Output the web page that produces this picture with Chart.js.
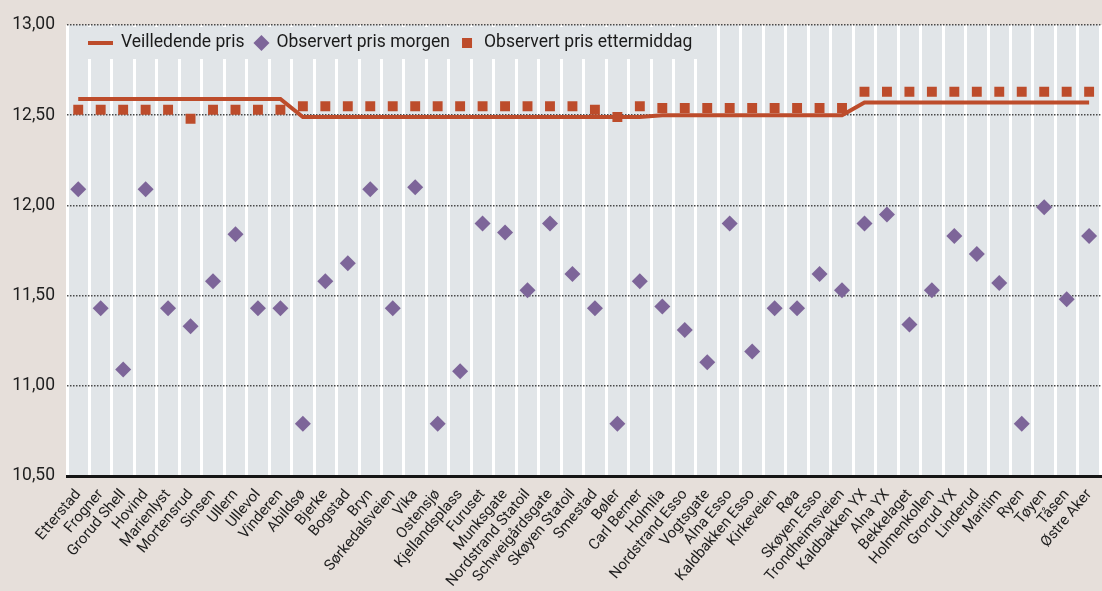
<!DOCTYPE html>
<html>
<head>
<meta charset="utf-8">
<script src="https://cdn.jsdelivr.net/npm/chart.js@4"></script>
<style>
  html, body { margin: 0; padding: 0; background: #e6dfda; overflow: hidden; }
  #wrap { width: 1113px; height: 591px; }
</style>
</head>
<body>
<div id="wrap"><canvas id="chart"></canvas></div>
<script>
// --- data ---
const stations = ['Etterstad', 'Frogner', 'Grorud Shell', 'Hovind', 'Marienlyst', 'Mortensrud', 'Sinsen', 'Ullern',
  'Ullevol', 'Vinderen', 'Abildsø', 'Bjerke', 'Bogstad', 'Bryn', 'Sørkedalsveien', 'Vika', 'Ostensjø', 'Kjellandsplass',
  'Furuset', 'Munksgate', 'Nordstrand Statoil', 'Schweigårdsgate', 'Skøyen Statoil', 'Smestad', 'Bøler', 'Carl Berner',
  'Holmlia', 'Nordstrand Esso', 'Vogtsgate', 'Alna Esso', 'Kaldbakken Esso', 'Kirkeveien', 'Røa', 'Skøyen Esso',
  'Trondheimsveien', 'Kaldbakken YX', 'Alna YX', 'Bekkelaget', 'Holmenkollen', 'Grorud YX', 'Linderud', 'Maritim',
  'Ryen', 'Tøyen', 'Tåsen', 'Østre Aker'];

const veiledende = [12.59, 12.59, 12.59, 12.59, 12.59, 12.59, 12.59, 12.59, 12.59, 12.59,
  12.49, 12.49, 12.49, 12.49, 12.49, 12.49, 12.49, 12.49, 12.49, 12.49, 12.49, 12.49, 12.49, 12.49, 12.49, 12.49,
  12.50, 12.50, 12.50, 12.50, 12.50, 12.50, 12.50, 12.50, 12.50,
  12.57, 12.57, 12.57, 12.57, 12.57, 12.57, 12.57, 12.57, 12.57, 12.57, 12.57];

const morgen = [12.09, 11.43, 11.09, 12.09, 11.43, 11.33, 11.58, 11.84, 11.43, 11.43,
  10.79, 11.58, 11.68, 12.09, 11.43, 12.10, 10.79, 11.08, 11.90, 11.85,
  11.53, 11.90, 11.62, 11.43, 10.79, 11.58, 11.44, 11.31, 11.13, 11.90,
  11.19, 11.43, 11.43, 11.62, 11.53, 11.90, 11.95, 11.34, 11.53, 11.83,
  11.73, 11.57, 10.79, 11.99, 11.48, 11.83];

const ettermiddag = [12.53, 12.53, 12.53, 12.53, 12.53, 12.48, 12.53, 12.53, 12.53, 12.53,
  12.55, 12.55, 12.55, 12.55, 12.55, 12.55, 12.55, 12.55, 12.55, 12.55, 12.55, 12.55, 12.55,
  12.53, 12.49, 12.55,
  12.54, 12.54, 12.54, 12.54, 12.54, 12.54, 12.54, 12.54, 12.54,
  12.63, 12.63, 12.63, 12.63, 12.63, 12.63, 12.63, 12.63, 12.63, 12.63, 12.63];

const yTicks = [10.5, 11, 11.5, 12, 12.5, 13];

// --- colours / fonts ---
const ORANGE = '#bd4c2b';
const PURPLE = '#7d6599';
const PLOT_BG = '#e1e5e8';
const FONT = "'Roboto', 'Liberation Sans', sans-serif";

const fmt = v => v.toFixed(2).replace('.', ',');

// grå bakgrunn bak plottet
const plotBg = {
  id: 'plotBg',
  beforeDraw(chart) {
    const { ctx, chartArea: a } = chart;
    ctx.save();
    ctx.fillStyle = PLOT_BG;
    ctx.fillRect(a.left, a.top, a.right - a.left, a.bottom - a.top);
    ctx.restore();
  }
};

// legende inne i plottet, over de hvite linjene
const innerLegend = {
  id: 'innerLegend',
  beforeDatasetsDraw(chart) {
    const { ctx, chartArea: a } = chart;
    const ds = chart.data.datasets;
    ctx.save();
    ctx.fillStyle = PLOT_BG;
    ctx.fillRect(a.left + 2, a.top + 2, 647, 32);

    const cy = a.top + 18;
    ctx.font = '17.5px ' + FONT;
    ctx.textBaseline = 'middle';
    let x = a.left + 21;

    // linje
    ctx.strokeStyle = ORANGE;
    ctx.lineWidth = 4;
    ctx.beginPath();
    ctx.moveTo(x, cy);
    ctx.lineTo(x + 25, cy);
    ctx.stroke();
    x += 33;
    ctx.fillStyle = '#1b1b1b';
    ctx.fillText(ds[0].label, x, cy);
    x += ctx.measureText(ds[0].label).width + 9;

    // rute
    ctx.fillStyle = PURPLE;
    ctx.beginPath();
    ctx.moveTo(x, cy);
    ctx.lineTo(x + 8, cy - 8);
    ctx.lineTo(x + 16, cy);
    ctx.lineTo(x + 8, cy + 8);
    ctx.closePath();
    ctx.fill();
    x += 23;
    ctx.fillStyle = '#1b1b1b';
    ctx.fillText(ds[1].label, x, cy);
    x += ctx.measureText(ds[1].label).width + 12;

    // firkant
    ctx.fillStyle = ORANGE;
    ctx.fillRect(x, cy - 5, 10, 10);
    x += 22;
    ctx.fillStyle = '#1b1b1b';
    ctx.fillText(ds[2].label, x, cy);
    ctx.restore();
  }
};

new Chart(document.getElementById('chart'), {
  type: 'line',
  data: {
    labels: stations,
    datasets: [
      {
        label: 'Veilledende pris',
        data: veiledende,
        borderColor: ORANGE,
        borderWidth: 4,
        pointRadius: 0,
        tension: 0,
        order: 2
      },
      {
        label: 'Observert pris morgen',
        data: morgen,
        showLine: false,
        pointStyle: 'rectRot',
        pointRadius: 8,
        pointBackgroundColor: PURPLE,
        pointBorderWidth: 0,
        order: 1
      },
      {
        label: 'Observert pris ettermiddag',
        data: ettermiddag,
        showLine: false,
        pointStyle: 'rect',
        pointRadius: 7,
        pointBackgroundColor: ORANGE,
        pointBorderWidth: 0,
        order: 1
      }
    ]
  },
  options: {
    responsive: true,
    maintainAspectRatio: false,
    animation: false,
    layout: { padding: { top: 25, right: 0, left: 0, bottom: 0 } },
    plugins: {
      legend: { display: false },
      tooltip: { enabled: false }
    },
    scales: {
      x: {
        offset: true,
        grid: { color: '#ffffff', lineWidth: 3, offset: true, drawTicks: false },
        border: { display: true, color: '#151515', width: 3 },
        ticks: {
          autoSkip: false,
          minRotation: 50,
          maxRotation: 50,
          padding: 10,
          color: '#1e1e1e',
          font: { family: FONT, size: 15 }
        },
        afterFit: s => { s.height = 115; }
      },
      y: {
        min: 10.5,
        max: 13,
        afterBuildTicks: s => { s.ticks = yTicks.map(v => ({ value: v })); },
        grid: { color: '#4a4a4a', lineWidth: 1.5, drawTicks: false },
        border: { display: false, dash: [1.5, 1.5] },
        ticks: {
          padding: 12,
          color: '#1e1e1e',
          font: { family: FONT, size: 17.5 },
          callback: v => fmt(v)
        },
        afterFit: s => { s.width = 67; }
      }
    }
  },
  plugins: [plotBg, innerLegend]
});
</script>
</body>
</html>
